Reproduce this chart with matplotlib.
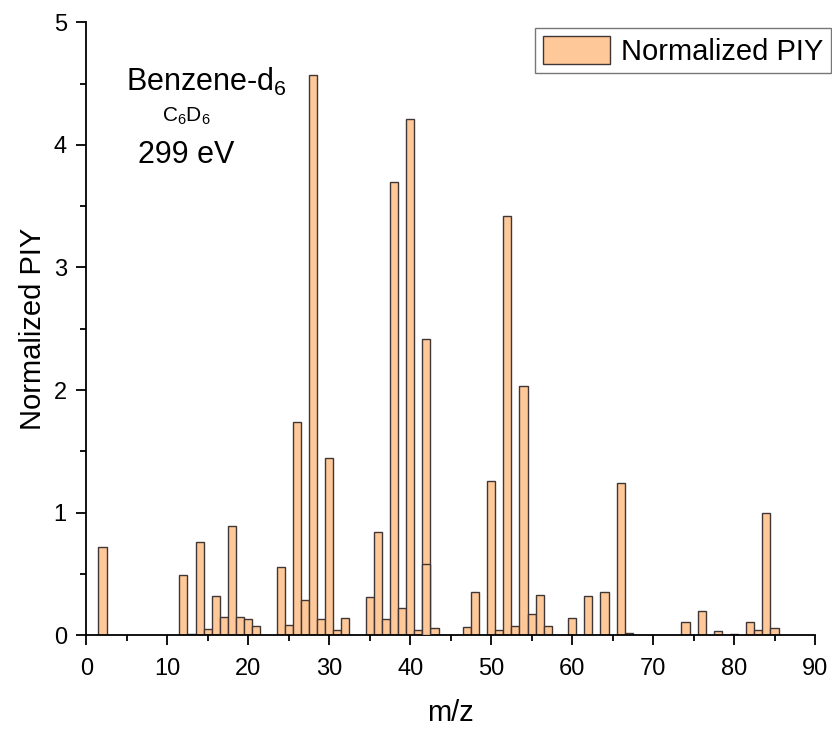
import matplotlib
matplotlib.use("Agg")
import matplotlib.pyplot as plt
from matplotlib.ticker import MultipleLocator

plt.rcParams['font.family'] = ['Liberation Sans', 'DejaVu Sans']
plt.rcParams['mathtext.fontset'] = 'custom'
plt.rcParams['mathtext.rm'] = 'Liberation Sans'
plt.rcParams['mathtext.it'] = 'Liberation Sans'

# Fragment masses and normalized partial ion yields
mz = [2, 12, 13, 14, 15, 16, 17, 18, 19, 20, 21, 24, 25, 26, 27, 28, 29, 30, 31, 32,
      35, 36, 37, 38, 39, 40, 41, 42, 43, 47, 48, 50, 51, 52, 53, 54, 55, 56, 57,
      60, 62, 64, 66, 67, 74, 76, 78, 80, 82, 83, 84, 85]
piy = [0.72, 0.49, 0.01, 0.76, 0.05, 0.32, 0.15, 0.89, 0.15, 0.13, 0.073, 0.555, 0.086,
       1.74, 0.29, 4.57, 0.13, 1.45, 0.04, 0.14,
       0.31, 0.84, 0.13, 3.70, 0.22, 4.21, 0.045, 2.42, 0.06, 0.065, 0.35, 1.26, 0.045,
       3.42, 0.076, 2.03, 0.175, 0.33, 0.075,
       0.14, 0.32, 0.35, 1.24, 0.02, 0.11, 0.20, 0.035, 0.01, 0.105, 0.045, 1.00, 0.06]

# Second entry recorded at m/z 42
mz_dup = [42]
piy_dup = [0.58]

x_ticks = [0, 10, 20, 30, 40, 50, 60, 70, 80, 90]
y_ticks = [0, 1, 2, 3, 4, 5]

fill = '#FEC898'
edge = '#403636'

fig = plt.figure(figsize=(8.32, 7.30), dpi=100)
ax = fig.add_axes([0.1037, 0.1297, 0.8759, 0.8398])

ax.bar(mz, piy, width=1.0, color=fill, edgecolor=edge, linewidth=1.0,
       label='Normalized PIY', zorder=2)
ax.bar(mz_dup, piy_dup, width=1.0, color=fill, edgecolor=edge, linewidth=1.0, zorder=3)

ax.set_xlim(0, 90)
ax.set_ylim(0, 5)
ax.set_xticks(x_ticks)
ax.set_yticks(y_ticks)
ax.xaxis.set_minor_locator(MultipleLocator(5))
ax.yaxis.set_minor_locator(MultipleLocator(0.5))
ax.tick_params(which='major', direction='out', length=7, width=1.3, labelsize=17)
ax.tick_params(which='minor', direction='out', length=4, width=1.3)
ax.tick_params(axis='x', which='major', pad=9)
ax.tick_params(axis='y', which='major', pad=7)

for s in ('top', 'right'):
    ax.spines[s].set_visible(False)
for s in ('left', 'bottom'):
    ax.spines[s].set_linewidth(1.3)

ax.set_xlabel('m/z', fontsize=21, labelpad=14)
ax.set_ylabel('Normalized PIY', fontsize=21, labelpad=5)

ax.text(14.86, 4.515, 'Benzene-d$_6$', fontsize=22, ha='center', va='center')
ax.text(12.3, 4.23, 'C$_6$D$_6$', fontsize=15, ha='center', va='center')
ax.text(12.3, 3.92, '299 eV', fontsize=22, ha='center', va='center')

leg = ax.legend(loc='upper right', bbox_to_anchor=(1.022, 0.99), fontsize=21,
                frameon=True, fancybox=False, handlelength=2.3, handleheight=1.1,
                borderpad=0.25, handletextpad=0.4, borderaxespad=0)
leg.get_frame().set_edgecolor('#555555')
leg.get_frame().set_linewidth(1.0)

fig.savefig('out.png', dpi=100)
